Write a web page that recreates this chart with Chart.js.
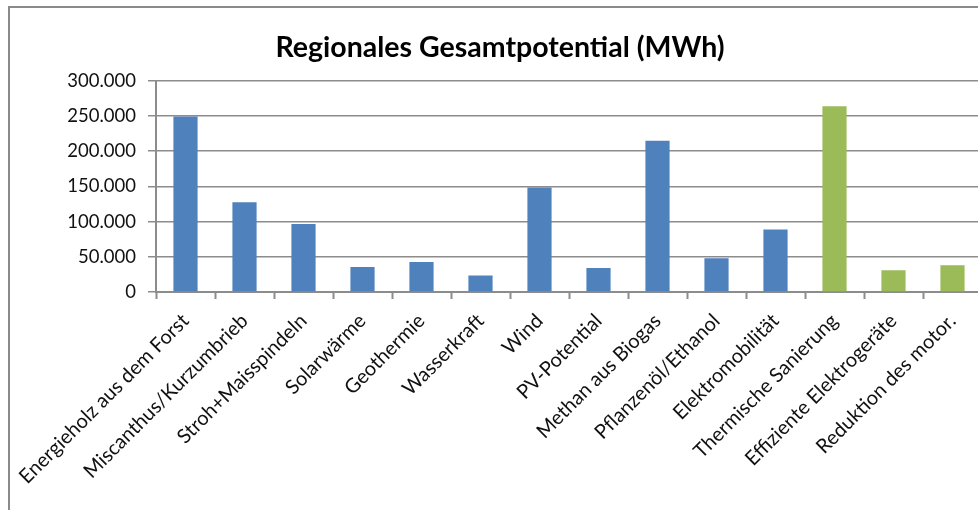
<!DOCTYPE html>
<html>
<head>
<meta charset="utf-8">
<script src="https://cdn.jsdelivr.net/npm/chart.js@4"></script>
<style>
  html, body { margin: 0; padding: 0; background: #fff; overflow: hidden; }
  #frame {
    position: absolute; left: 8px; top: 6px;
    width: 992px; height: 520px;
    border: 2px solid #8a8a8a; box-sizing: border-box;
  }
  #chart { display: block; }
</style>
</head>
<body>
<div id="frame"><canvas id="chart" width="980" height="516"></canvas></div>
<script>
const TITLE = "Regionales Gesamtpotential (MWh)";

const categories = [
  "Energieholz aus dem Forst",
  "Miscanthus/Kurzumbrieb",
  "Stroh+Maisspindeln",
  "Solarwärme",
  "Geothermie",
  "Wasserkraft",
  "Wind",
  "PV-Potential",
  "Methan aus Biogas",
  "Pflanzenöl/Ethanol",
  "Elektromobilität",
  "Thermische Sanierung",
  "Effiziente Elektrogeräte",
  "Reduktion des motor.",
];

const values = [
  249000, 127500, 96500, 35500, 42700, 23300, 148500,
  34100, 214700, 47900, 88700, 263600, 30800, 38000,
];

// blue = Erzeugung, green = Einsparung
const groups = ["e","e","e","e","e","e","e","e","e","e","e","s","s","s"];

const yTicks = [0, 50000, 100000, 150000, 200000, 250000, 300000];

const BLUE = "#4f81bd";
const GREEN = "#9bbb59";
const GRID = "#8c8c8c";
const FONT = "Lato, 'Open Sans', sans-serif";

const fmt = v => v.toLocaleString("de-DE");

new Chart(document.getElementById("chart"), {
  type: "bar",
  data: {
    labels: categories,
    datasets: [{
      data: values,
      backgroundColor: groups.map(g => g === "s" ? GREEN : BLUE),
      borderWidth: 0,
      barPercentage: 0.41,
      categoryPercentage: 1.0,
    }],
  },
  options: {
    responsive: false,
    animation: false,
    devicePixelRatio: 1,
    layout: { padding: 0 },
    plugins: {
      legend: { display: false },
      tooltip: { enabled: false },
      title: {
        display: true,
        text: TITLE,
        color: "#000",
        font: { family: FONT, size: 28.5, weight: "bold" },
        padding: { top: 23, bottom: 15.5 },
      },
    },
    scales: {
      x: {
        offset: true,
        grid: {
          display: true,
          offset: true,
          drawOnChartArea: false,
          drawTicks: true,
          tickLength: 7,
          tickColor: GRID,
          tickWidth: 2,
        },
        border: { display: true, color: GRID, width: 2 },
        ticks: {
          color: "#111",
          font: { family: FONT, size: 20 },
          minRotation: 45,
          maxRotation: 45,
          autoSkip: false,
          padding: 10,
          labelOffset: 0,
        },
        afterFit: s => {
          s.height = 232;
          // rotated labels reach into the y-axis area; don't shrink the plot for them
          s.paddingLeft = 0;
          s.paddingRight = 8;
        },
      },
      y: {
        min: 0,
        max: 300000,
        afterBuildTicks: s => { s.ticks = yTicks.map(v => ({ value: v })); },
        grid: {
          color: GRID,
          lineWidth: 1.5,
          tickLength: 8,
          tickColor: GRID,
        },
        border: { display: true, color: GRID, width: 2 },
        ticks: {
          color: "#111",
          font: { family: FONT, size: 18.5 },
          padding: 12,
          callback: v => fmt(v),
        },
        afterFit: s => { s.width = 146; },
      },
    },
  },
});
</script>
</body>
</html>
